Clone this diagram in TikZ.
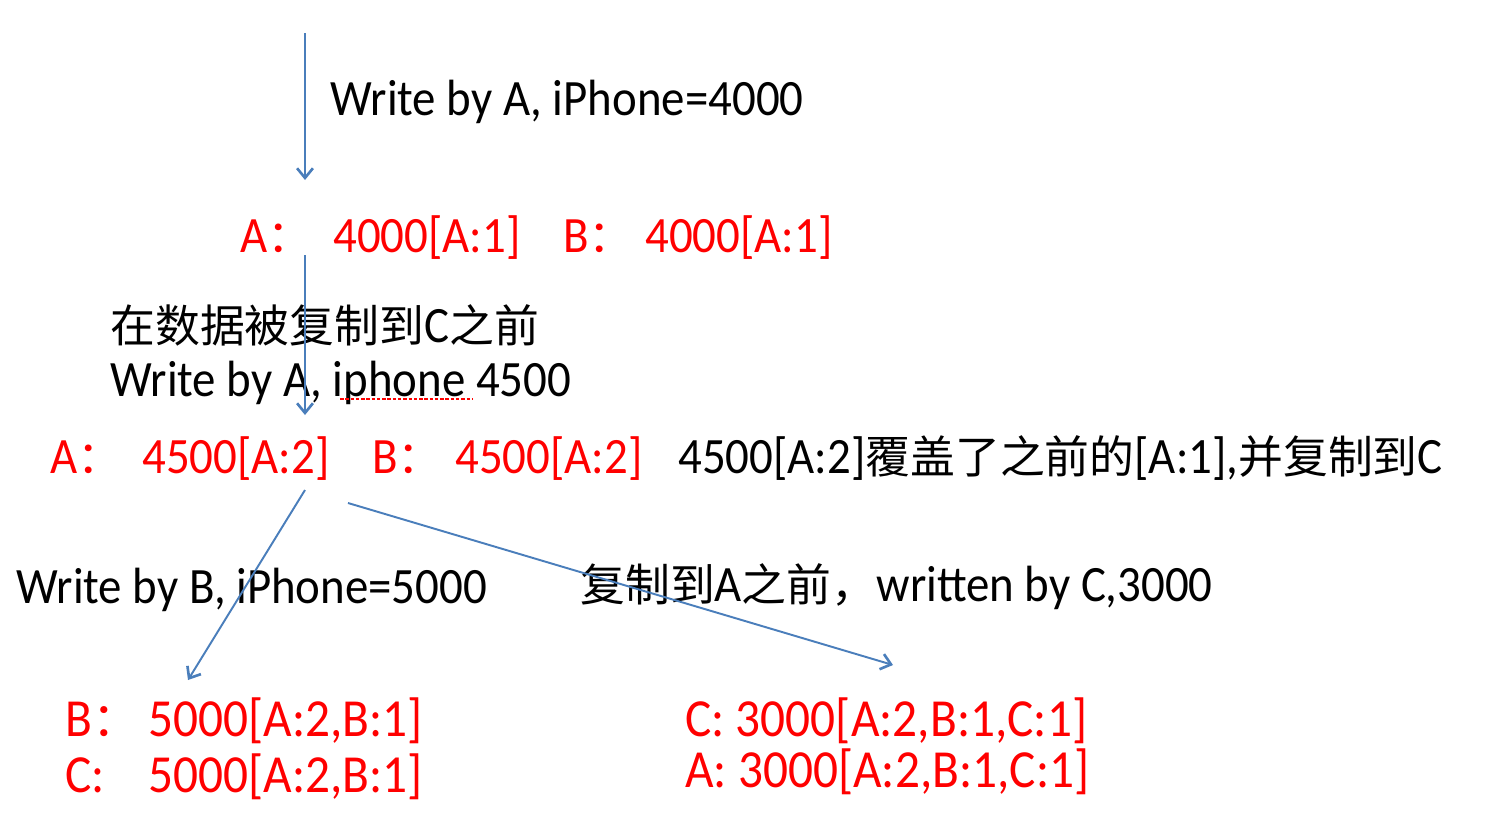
\documentclass[tikz,border=0pt]{standalone}
\usepackage{fontspec}
\setmainfont{Carlito}[FakeStretch=0.92]
\newfontfamily\cjk{Noto Sans CJK SC}[Scale=0.88]
\usetikzlibrary{arrows.meta}
\definecolor{vred}{HTML}{FF0000}
\definecolor{flow}{HTML}{4A7EBB}

\begin{document}
\begin{tikzpicture}[x=0.02cm, y=-0.02cm,
        note/.style={anchor=base west, inner sep=0pt, font=\fontsize{29}{34}\selectfont},
        ver/.style={note, text=vred},
        bigver/.style={ver, font=\fontsize{30.5}{36}\selectfont},
        push/.style={draw=flow, line width=1.1pt, -{Straight Barb[length=5.5pt,width=9pt,line width=1.5pt]}},
        spell/.style={draw=vred, line width=1.2pt, dash pattern=on 2pt off 1pt}]
    \useasboundingbox (0,0) rectangle (1510,818);

    % first write
    \coordinate (top) at (305,33);
    \coordinate (in1) at (305,180);
    \node[note] (wA1) at (330,115) {Write by A, iPhone=4000};
    \node[ver] (keyA1) at (240,252) {A{\cjk ：}};
    \node[ver] (valA1) at (333,252) {4000[A:1]};
    \node[ver] (keyB1) at (563,252) {B{\cjk ：}};
    \node[ver] (valB1) at (645,252) {4000[A:1]};

    % second write by A
    \coordinate (out2) at (305,255);
    \coordinate (in2) at (305,415);
    \node[note] (pre2) at (110,342) {{\cjk 在数据被复制到}C{\cjk 之前}};
    \node[note] (wA2) at (110,396) {Write by A, iphone 4500};
    \draw[spell] (340,399) -- (473,399);
    \node[ver] (keyA2) at (50,473) {A{\cjk ：}};
    \node[ver] (valA2) at (142,473) {4500[A:2]};
    \node[ver] (keyB2) at (372,473) {B{\cjk ：}};
    \node[ver] (valB2) at (455,473) {4500[A:2]};
    \node[note] (over) at (678,473) {4500[A:2]{\cjk 覆盖了之前的}[A:1],{\cjk 并复制到}C};

    % concurrent writes
    \coordinate (out3) at (305,490);
    \coordinate (in3) at (188,680);
    \coordinate (out4) at (348,503);
    \coordinate (in4) at (893,665);
    \node[note] (wB) at (16,603) {Write by B, iPhone=5000};
    \node[note] (wC) at (580,601) {{\cjk 复制到}A{\cjk 之前，}written by C,3000};

    % conflicting versions
    \node[bigver] (keyB3) at (65,736) {B{\cjk ：}};
    \node[bigver] (valB3) at (148,736) {5000[A:2,B:1]};
    \node[bigver] (keyC3) at (65,792) {C:};
    \node[bigver] (valC3) at (148,792) {5000[A:2,B:1]};
    \node[bigver] (verC4) at (685,736) {C: 3000[A:2,B:1,C:1]};
    \node[bigver] (verA4) at (685,787) {A: 3000[A:2,B:1,C:1]};

    \draw[push] (top) -- (in1);
    \draw[push] (out2) -- (in2);
    \draw[push] (out3) -- (in3);
    \draw[push] (out4) -- (in4);
\end{tikzpicture}
\end{document}
